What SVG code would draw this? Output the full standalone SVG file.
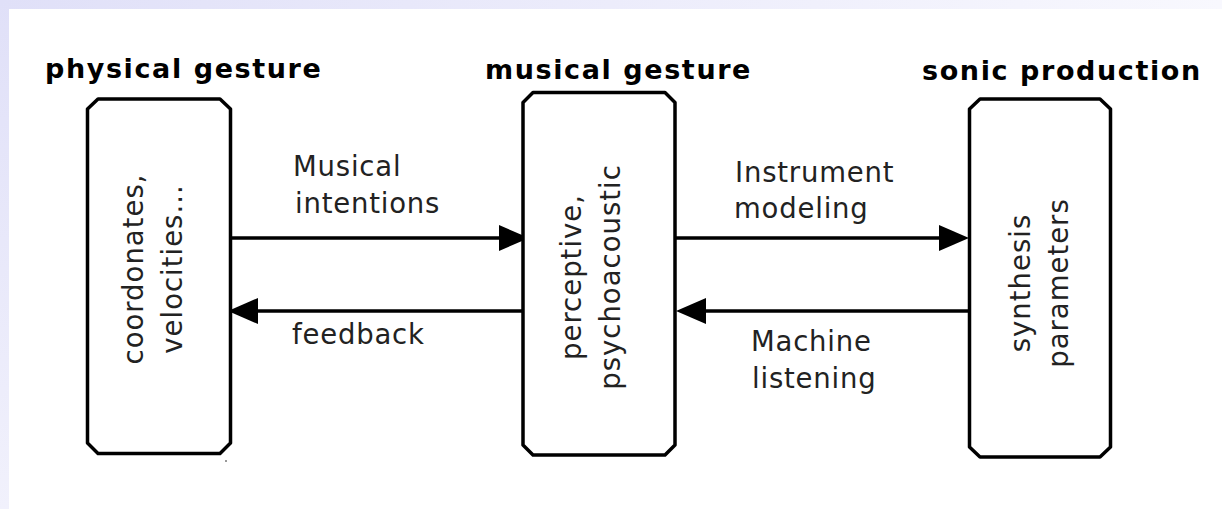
<svg xmlns="http://www.w3.org/2000/svg" width="1222" height="509" viewBox="0 0 1222 509">
  <style>
    .frame { fill: #ffffff; stroke: #000000; stroke-width: 3.5; stroke-linejoin: round; }
    .title { font-family: "DejaVu Sans", Verdana, sans-serif; font-weight: bold; font-size: 27px; letter-spacing: 1.6px; fill: #000000; }
    .label { font-family: "DejaVu Sans", Verdana, sans-serif; font-size: 27.5px; letter-spacing: 0.8px; fill: #222222; }
    .inner { font-family: "DejaVu Sans", Verdana, sans-serif; font-size: 27.5px; letter-spacing: 1px; fill: #222222; text-anchor: middle; }
    .link { fill: none; stroke: #000000; stroke-width: 3.5; }
  </style>
  <defs>
    <linearGradient id="topBand" x1="0" y1="0" x2="1" y2="0">
      <stop offset="0" stop-color="#e0e0f8"/>
      <stop offset="1" stop-color="#f8f8fe"/>
    </linearGradient>
    <linearGradient id="leftBand" x1="0" y1="0" x2="0" y2="1">
      <stop offset="0" stop-color="#e0e0f8"/>
      <stop offset="1" stop-color="#f1f1fc"/>
    </linearGradient>
    <marker id="head" viewBox="0 0 30 26" refX="20" refY="13" markerWidth="30" markerHeight="26" markerUnits="userSpaceOnUse" orient="auto">
      <path d="M0,0 L30,13 L0,26 Z" fill="#000000"/>
    </marker>
  </defs>

  <!-- page background with lavender border bands -->
  <rect x="0" y="0" width="1222" height="509" fill="#ffffff"/>
  <rect x="0" y="0" width="1222" height="9" fill="url(#topBand)"/>
  <rect x="0" y="0" width="9" height="509" fill="url(#leftBand)"/>

  <!-- connectors -->
  <g id="connectors">
    <path class="link" d="M232,238 H519" marker-end="url(#head)"/>
    <path class="link" d="M522,311 H238" marker-end="url(#head)"/>
    <path class="link" d="M675,238 H959" marker-end="url(#head)"/>
    <path class="link" d="M968,311 H686" marker-end="url(#head)"/>
    <text class="label" x="293" y="176">Musical</text>
    <text class="label" x="295" y="213">intentions</text>
    <text class="label" x="292" y="344">feedback</text>
    <text class="label" x="735" y="182">Instrument</text>
    <text class="label" x="734" y="218">modeling</text>
    <text class="label" x="751" y="351">Machine</text>
    <text class="label" x="752" y="388">listening</text>
  </g>

  <!-- physical gesture -->
  <g id="physical">
    <text class="title" x="45" y="78">physical gesture</text>
    <path class="frame" d="M98,99 H220 L230.5,109 V443 L220,453.5 H98 L87.5,443 V109 Z"/>
    <text class="inner" transform="translate(143,269) rotate(-90)">coordonates,</text>
    <text class="inner" transform="translate(182,269) rotate(-90)">velocities...</text>
    <circle cx="226" cy="461" r="1" fill="#777777"/>
  </g>

  <!-- musical gesture -->
  <g id="musical">
    <text class="title" x="485" y="79">musical gesture</text>
    <path class="frame" d="M533,92.5 H665 L675,102.5 V445 L665,455 H533 L523,445 V102.5 Z"/>
    <text class="inner" transform="translate(581,277) rotate(-90)">perceptive,</text>
    <text class="inner" transform="translate(620,277) rotate(-90)">psychoacoustic</text>
  </g>

  <!-- sonic production -->
  <g id="sonic">
    <text class="title" x="922" y="80">sonic production</text>
    <path class="frame" d="M980,99 H1100 L1110.5,109 V447 L1100,457 H980 L969.5,447 V109 Z"/>
    <text class="inner" transform="translate(1030,283) rotate(-90)">synthesis</text>
    <text class="inner" transform="translate(1068,283) rotate(-90)">parameters</text>
  </g>
</svg>
